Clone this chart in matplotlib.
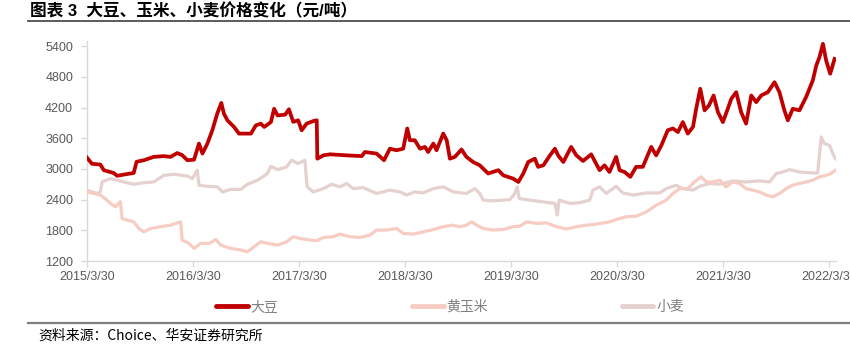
import matplotlib
matplotlib.use("Agg")
import matplotlib.pyplot as plt
from matplotlib.lines import Line2D
import pandas as pd

plt.rcParams['font.family'] = ['Liberation Sans', 'Noto Sans CJK SC', 'DejaVu Sans']

title_text = "图表 3  大豆、玉米、小麦价格变化（元/吨）"
source_text = "资料来源：Choice、华安证券研究所"
series_names = ["大豆", "黄玉米", "小麦"]
x_tick_labels = ["2015/3/30", "2016/3/30", "2017/3/30", "2018/3/30",
                 "2019/3/30", "2020/3/30", "2021/3/30", "2022/3/30"]
y_ticks = [1200, 1800, 2400, 3000, 3600, 4200, 4800, 5400]

soy_dates = [
    "2015-03-30", "2015-04-16", "2015-05-15", "2015-05-27", "2015-06-30", "2015-07-12",
    "2015-08-15", "2015-09-07", "2015-09-17", "2015-10-12", "2015-11-15", "2015-12-20",
    "2016-01-12", "2016-02-04", "2016-02-21", "2016-03-10", "2016-04-02", "2016-04-19",
    "2016-05-01", "2016-05-18", "2016-06-04", "2016-06-21", "2016-07-05", "2016-07-14",
    "2016-07-26", "2016-08-18", "2016-09-04", "2016-10-15", "2016-11-01", "2016-11-18",
    "2016-11-30", "2016-12-23", "2017-01-03", "2017-01-15", "2017-02-10", "2017-02-23",
    "2017-03-10", "2017-03-27", "2017-04-08", "2017-04-25", "2017-05-18", "2017-05-30",
    "2017-06-01", "2017-06-22", "2017-07-15", "2017-09-10", "2017-11-01", "2017-11-12",
    "2017-12-22", "2018-01-17", "2018-02-06", "2018-03-01", "2018-03-24", "2018-04-07",
    "2018-04-16", "2018-05-03", "2018-05-21", "2018-06-07", "2018-06-18", "2018-07-06",
    "2018-07-17", "2018-08-09", "2018-08-21", "2018-09-01", "2018-09-18", "2018-10-11",
    "2018-10-28", "2018-11-20", "2018-12-13", "2019-01-11", "2019-02-15", "2019-03-04",
    "2019-04-07", "2019-04-25", "2019-05-12", "2019-05-29", "2019-06-21", "2019-07-02",
    "2019-07-20", "2019-08-12", "2019-08-29", "2019-09-09", "2019-09-27", "2019-10-24",
    "2019-11-11", "2019-12-04", "2020-01-01", "2020-01-30", "2020-02-16", "2020-03-04",
    "2020-03-27", "2020-04-08", "2020-04-25", "2020-05-15", "2020-06-04", "2020-06-27",
    "2020-07-26", "2020-08-12", "2020-08-30", "2020-09-21", "2020-10-09", "2020-10-26",
    "2020-11-12", "2020-11-29", "2020-12-17", "2020-12-28", "2021-01-11", "2021-01-26",
    "2021-02-10", "2021-02-26", "2021-03-13", "2021-03-30", "2021-04-16", "2021-04-28",
    "2021-05-15", "2021-06-01", "2021-06-18", "2021-07-06", "2021-07-23", "2021-08-09",
    "2021-09-01", "2021-09-24", "2021-10-11", "2021-10-28", "2021-11-09", "2021-11-26",
    "2021-12-19", "2022-01-11", "2022-02-03", "2022-02-15", "2022-02-26", "2022-03-10",
    "2022-03-21", "2022-04-04", "2022-04-19",
]
soy_values = [
    3220, 3100, 3085, 2975, 2920, 2865,
    2900, 2920, 3140, 3170, 3235, 3250,
    3235, 3310, 3270, 3170, 3180, 3495,
    3300, 3495, 3755, 4080, 4290, 4080,
    3950, 3820, 3690, 3690, 3850, 3885,
    3820, 3915, 4175, 4045, 4060, 4165,
    3920, 3950, 3755, 3885, 3935, 3950,
    3200, 3265, 3285, 3265, 3250, 3330,
    3300, 3170, 3395, 3365, 3395, 3790,
    3560, 3560, 3395, 3430, 3330, 3495,
    3365, 3690, 3560, 3200, 3235, 3380,
    3235, 3135, 3070, 2910, 2975, 2875,
    2810, 2745, 2910, 3135, 3200, 3040,
    3070, 3265, 3395, 3265, 3135, 3430,
    3265, 3155, 3285, 2975, 3070, 2940,
    3235, 2975, 2940, 2845, 3040, 3040,
    3430, 3265, 3460, 3755, 3790, 3720,
    3915, 3690, 3820, 4175, 4567, 4145,
    4240, 4435, 4110, 3915, 4175, 4370,
    4500, 4110, 3885, 4435, 4305, 4435,
    4500, 4695, 4500, 4145, 3950, 4175,
    4145, 4405, 4730, 5020, 5185, 5445,
    5120, 4860, 5150,
]

corn_dates = [
    "2015-03-30", "2015-05-15", "2015-06-07", "2015-06-19", "2015-07-06", "2015-07-23",
    "2015-07-29", "2015-08-15", "2015-09-07", "2015-09-25", "2015-10-12", "2015-11-04",
    "2015-12-08", "2016-01-12", "2016-02-16", "2016-02-21", "2016-03-15", "2016-04-02",
    "2016-04-25", "2016-05-24", "2016-06-16", "2016-07-03", "2016-08-06", "2016-09-10",
    "2016-10-03", "2016-10-26", "2016-11-18", "2016-12-11", "2017-01-15", "2017-02-15",
    "2017-03-10", "2017-04-02", "2017-05-07", "2017-05-30", "2017-06-22", "2017-07-26",
    "2017-08-18", "2017-09-21", "2017-10-26", "2017-11-29", "2017-12-22", "2018-01-26",
    "2018-03-01", "2018-03-24", "2018-04-28", "2018-06-01", "2018-07-06", "2018-08-09",
    "2018-09-07", "2018-10-06", "2018-10-28", "2018-11-15", "2018-12-02", "2018-12-25",
    "2019-01-28", "2019-03-04", "2019-04-07", "2019-04-30", "2019-05-23", "2019-06-27",
    "2019-07-31", "2019-09-04", "2019-10-08", "2019-11-11", "2019-12-15", "2020-01-19",
    "2020-03-04", "2020-03-27", "2020-05-01", "2020-06-04", "2020-07-09", "2020-08-12",
    "2020-09-16", "2020-10-09", "2020-11-01", "2020-11-29", "2020-12-22", "2021-01-14",
    "2021-02-01", "2021-02-24", "2021-03-19", "2021-04-10", "2021-05-03", "2021-05-26",
    "2021-06-18", "2021-07-11", "2021-08-03", "2021-08-26", "2021-09-18", "2021-10-11",
    "2021-11-03", "2021-11-26", "2021-12-19", "2022-01-11", "2022-02-03", "2022-02-26",
    "2022-03-21", "2022-04-07", "2022-04-22",
]
corn_values = [
    2550, 2490, 2390, 2325, 2260, 2360,
    2030, 2000, 1965, 1835, 1770, 1835,
    1870, 1900, 1965, 1610, 1545, 1447,
    1545, 1545, 1620, 1510, 1447, 1415,
    1380, 1480, 1575, 1545, 1510, 1575,
    1675, 1640, 1610, 1597, 1660, 1675,
    1725, 1675, 1660, 1705, 1805, 1805,
    1835, 1740, 1725, 1770, 1815, 1870,
    1900, 1870, 1900, 1965, 1900, 1835,
    1805, 1815, 1870, 1880, 1965, 1935,
    1945, 1870, 1825, 1870, 1900, 1920,
    1965, 2010, 2065, 2075, 2160, 2290,
    2390, 2520, 2615, 2615, 2745, 2845,
    2745, 2745, 2780, 2650, 2745, 2715,
    2615, 2585, 2550, 2490, 2455, 2520,
    2615, 2680, 2715, 2745, 2780, 2845,
    2875, 2910, 2975,
]

wheat_dates = [
    "2015-03-30", "2015-05-04", "2015-05-15", "2015-05-21", "2015-06-19", "2015-07-12",
    "2015-08-15", "2015-09-07", "2015-10-12", "2015-11-15", "2015-12-20", "2016-01-24",
    "2016-03-10", "2016-03-27", "2016-04-13", "2016-04-19", "2016-05-18", "2016-06-21",
    "2016-07-09", "2016-08-06", "2016-09-10", "2016-10-03", "2016-11-07", "2016-12-11",
    "2016-12-23", "2017-01-15", "2017-02-15", "2017-03-04", "2017-03-27", "2017-04-19",
    "2017-04-27", "2017-05-18", "2017-06-22", "2017-07-20", "2017-08-18", "2017-09-10",
    "2017-10-03", "2017-11-06", "2017-12-22", "2018-02-06", "2018-03-13", "2018-04-05",
    "2018-05-03", "2018-06-01", "2018-07-06", "2018-08-09", "2018-09-13", "2018-10-28",
    "2018-11-26", "2018-12-13", "2018-12-25", "2019-01-28", "2019-03-27", "2019-04-13",
    "2019-04-21", "2019-04-28", "2019-06-04", "2019-07-20", "2019-08-29", "2019-09-06",
    "2019-09-13", "2019-10-20", "2019-11-23", "2019-12-27", "2020-01-07", "2020-01-30",
    "2020-02-22", "2020-03-27", "2020-04-19", "2020-05-24", "2020-07-09", "2020-08-24",
    "2020-09-16", "2020-10-20", "2020-11-12", "2020-12-17", "2021-01-09", "2021-02-12",
    "2021-03-19", "2021-05-03", "2021-06-18", "2021-08-03", "2021-09-07", "2021-09-30",
    "2021-10-23", "2021-11-15", "2021-12-19", "2022-02-03", "2022-02-20", "2022-03-04",
    "2022-03-15", "2022-04-02", "2022-04-13", "2022-04-22",
]
wheat_values = [
    2585, 2520, 2550, 2745, 2810, 2780,
    2730, 2700, 2730, 2745, 2875, 2895,
    2860, 2810, 2975, 2680, 2660, 2650,
    2550, 2600, 2600, 2700, 2780, 2910,
    3050, 2985, 3040, 3170, 3105, 3170,
    2650, 2550, 2615, 2700, 2650, 2715,
    2615, 2635, 2520, 2585, 2550, 2490,
    2550, 2530, 2615, 2650, 2550, 2520,
    2615, 2520, 2390, 2375, 2400, 2520,
    2650, 2420, 2390, 2355, 2325, 2100,
    2390, 2325, 2340, 2390, 2585, 2650,
    2520, 2660, 2530, 2490, 2530, 2530,
    2615, 2680, 2615, 2585, 2660, 2715,
    2700, 2765, 2745, 2765, 2745, 2910,
    2940, 2985, 2940, 2920, 2920, 3625,
    3495, 3460, 3300, 3200,
]

colors = ["#C00000", "#F6CCC3", "#E4D1D0"]

fig = plt.figure(figsize=(8.5, 3.56), dpi=100)
ax = fig.add_axes([87/850, 1 - 261/356, (836 - 87)/850, (261 - 41)/356])

soy = pd.Series(soy_values, index=pd.to_datetime(soy_dates))
corn = pd.Series(corn_values, index=pd.to_datetime(corn_dates))
wheat = pd.Series(wheat_values, index=pd.to_datetime(wheat_dates))

ax.plot(wheat.index, wheat.values, color=colors[2], lw=2.3, zorder=2, solid_joinstyle='round')
ax.plot(corn.index, corn.values, color=colors[1], lw=2.3, zorder=3, solid_joinstyle='round')
ax.plot(soy.index, soy.values, color=colors[0], lw=2.7, zorder=4, solid_joinstyle='round')

ax.set_xlim(pd.Timestamp("2015-03-30"), pd.Timestamp("2022-04-24"))
ax.set_ylim(1200, 5500)
ax.set_yticks(y_ticks)
ax.set_yticklabels([str(v) for v in y_ticks])
xt = pd.to_datetime([s.replace("/", "-") for s in x_tick_labels], format="%Y-%m-%d")
ax.set_xticks(xt)
ax.set_xticklabels(x_tick_labels)

for s in ["top", "right"]:
    ax.spines[s].set_visible(False)
for s in ["left", "bottom"]:
    ax.spines[s].set_color("#D9D9D9")
    ax.spines[s].set_linewidth(1.0)
ax.tick_params(axis="both", colors="#D9D9D9", labelcolor="#595959", labelsize=9,
               length=4, width=1.0, direction="out")
ax.tick_params(axis="y", pad=6)
ax.tick_params(axis="x", pad=3)

# title and rules
fig.text(30/850, 1 - 11/356, title_text, fontsize=12, fontweight="bold",
         va="center", ha="left", color="#000000",
         family=["Liberation Sans", "Noto Sans CJK SC"])
fig.add_artist(Line2D([28/850, 1.0], [1 - 21/356, 1 - 21/356], color="#404040", lw=1.2))
fig.add_artist(Line2D([28/850, 1.0], [1 - 323/356, 1 - 323/356], color="#7F7F7F", lw=1.6))
fig.text(38/850, 1 - 336/356, source_text, fontsize=10, va="center", ha="left",
         color="#000000", family=["Noto Sans CJK SC", "Liberation Sans"])

handles = [Line2D([], [], color=c, lw=3.5, solid_capstyle="round") for c in colors]
leg = fig.legend(handles, series_names, loc="center", bbox_to_anchor=(450/850, 1 - 307/356),
                 ncol=3, frameon=False, handlelength=2.3, handletextpad=0.2,
                 columnspacing=9.6, prop={"family": ["Noto Sans CJK SC"], "size": 10})
for t in leg.get_texts():
    t.set_color("#7F7F7F")

fig.savefig("out.png", dpi=100)
